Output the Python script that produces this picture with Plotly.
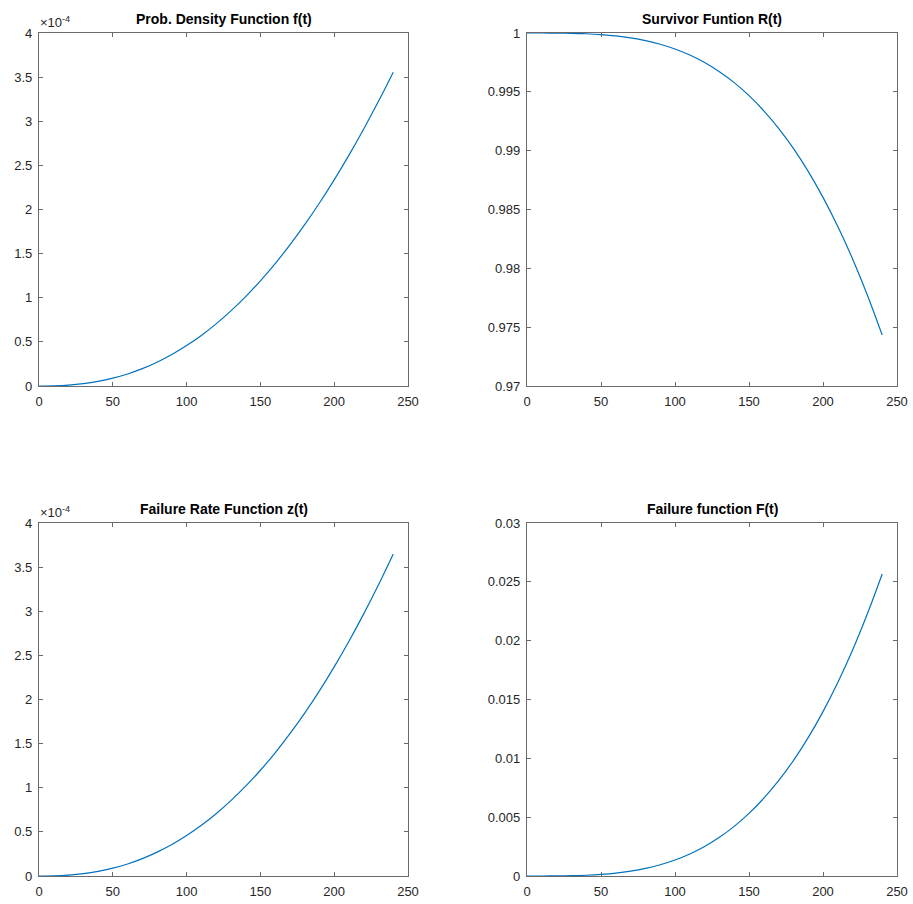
import plotly.graph_objects as go

# ---- data ----
t = [0, 10, 20, 30, 40, 50, 60, 70, 80, 90, 100, 110, 120, 130, 140, 150,
     160, 170, 180, 190, 200, 210, 220, 230, 240]

pdf_e4 = [0.0, 0.0020, 0.0101, 0.0264, 0.0522, 0.0887, 0.1366, 0.1967, 0.2699,
          0.3567, 0.458, 0.573, 0.704, 0.851, 1.013, 1.192, 1.387, 1.599, 1.828,
          2.074, 2.336, 2.616, 2.913, 3.226, 3.556]

rate_e4 = [0.0, 0.0020, 0.0101, 0.0264, 0.0522, 0.0887, 0.1366, 0.1968, 0.2701,
           0.3570, 0.4584, 0.5745, 0.7059, 0.8537, 1.0176, 1.1983, 1.3961, 1.6122,
           1.8458, 2.0984, 2.3696, 2.6598, 2.9700, 3.2996, 3.650]

fail = [0.0, 0.0000006, 0.000006, 0.0000235, 0.000062, 0.0001316, 0.0002434,
        0.000409, 0.000641, 0.000954, 0.001360, 0.001873, 0.002511, 0.003289,
        0.004219, 0.00532, 0.00661, 0.00810, 0.00981, 0.01176, 0.01397, 0.01644,
        0.01920, 0.02228, 0.02566]

surv = [1 - v for v in fail]
pdf = [v * 1e-4 for v in pdf_e4]
rate = [v * 1e-4 for v in rate_e4]

titles = ["Prob. Density Function f(t)", "Survivor Funtion R(t)",
          "Failure Rate Function z(t)", "Failure function F(t)"]

x_ticks = [0, 50, 100, 150, 200, 250]
e4_vals = [0, 0.5e-4, 1e-4, 1.5e-4, 2e-4, 2.5e-4, 3e-4, 3.5e-4, 4e-4]
e4_text = ["0", "0.5", "1", "1.5", "2", "2.5", "3", "3.5", "4"]
r_vals = [0.97, 0.975, 0.98, 0.985, 0.99, 0.995, 1.0]
r_text = ["0.97", "0.975", "0.98", "0.985", "0.99", "0.995", "1"]
F_vals = [0, 0.005, 0.01, 0.015, 0.02, 0.025, 0.03]
F_text = ["0", "0.005", "0.01", "0.015", "0.02", "0.025", "0.03"]

# ---- figure ----
W, H = 913, 904
line_color = "#0072BD"
axis_color = "#6a6a6a"
text_color = "#262626"
FONT = "Liberation Sans, Arial, sans-serif"

px_x = [(39, 408), (527, 897)]
px_y = [(33, 386), (523, 876)]

def xd(a, b):
    return [a / W, b / W]

def yd(a, b):
    return [1 - b / H, 1 - a / H]

fig = go.Figure()

series = [pdf, surv, rate, fail]
yranges = [[0, 4e-4], [0.97, 1.0], [0, 4e-4], [0, 0.03]]
yticks = [(e4_vals, e4_text), (r_vals, r_text), (e4_vals, e4_text), (F_vals, F_text)]

for i in range(4):
    row, col = divmod(i, 2)
    n = "" if i == 0 else str(i + 1)
    fig.add_trace(go.Scatter(x=t, y=series[i], mode="lines", line_shape="spline",
                             line=dict(color=line_color, width=1.2),
                             xaxis="x" + n, yaxis="y" + n, showlegend=False))
    common = dict(showgrid=False, zeroline=False, showline=True, linecolor=axis_color,
                  linewidth=1.3, mirror="ticks", ticks="inside", ticklen=4,
                  automargin=False, ticklabelstandoff=3,
                  tickcolor=axis_color, tickfont=dict(family=FONT, size=13, color=text_color))
    fig.layout["xaxis" + n] = dict(common, domain=xd(*px_x[col]), range=[0, 250],
                                   tickvals=x_ticks, anchor="y" + n)
    fig.layout["yaxis" + n] = dict(common, domain=yd(*px_y[row]), range=yranges[i],
                                   tickvals=yticks[i][0], ticktext=yticks[i][1],
                                   anchor="x" + n)
    cx = (px_x[col][0] + px_x[col][1]) / 2 / W
    ty = 1 - (px_y[row][0] - 14) / H
    fig.add_annotation(text="<b>" + titles[i] + "</b>", x=cx, y=ty, xref="paper",
                       yref="paper", showarrow=False, xanchor="center", yanchor="middle",
                       font=dict(family=FONT, size=14, color="#000000"))
    if i in (0, 2):
        fig.add_annotation(text="×10<sup>-4</sup>", x=(px_x[col][0] - 1) / W,
                           y=1 - (px_y[row][0] - 1) / H, xref="paper", yref="paper",
                           showarrow=False, xanchor="left", yanchor="bottom",
                           font=dict(family=FONT, size=13, color=text_color))

fig.update_layout(width=W, height=H, margin=dict(l=0, r=0, t=0, b=0, autoexpand=False),
                  paper_bgcolor="white", plot_bgcolor="white")

fig.write_html("out.html", config={"displayModeBar": False},
               post_script="document.body.style.margin='0';document.body.style.overflow='hidden';")
